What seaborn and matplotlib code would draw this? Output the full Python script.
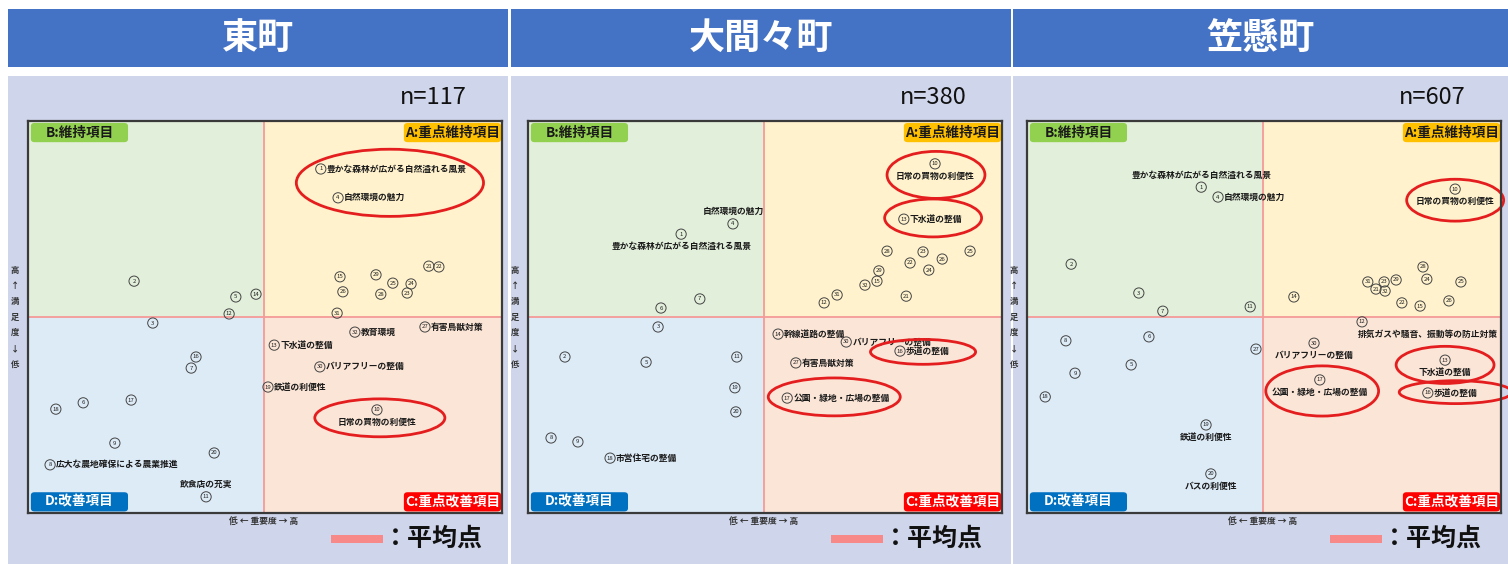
import numpy as np
import pandas as pd
import matplotlib
matplotlib.use("Agg")
import matplotlib.pyplot as plt
import seaborn as sns
from matplotlib.patches import Rectangle, Ellipse, FancyBboxPatch

sns.set_theme(style="white")
plt.rcParams["font.family"] = ["Noto Sans CJK JP", "DejaVu Sans"]

# ---------------- data ----------------
towns = ["東町", "大間々町", "笠懸町"]
sample_sizes = [117, 380, 607]
item_ids = list(range(1, 33))

higashi_importance = [61.0, 22.1, 26.0, 64.6, 43.3, 11.5, 34.0, 4.6, 18.1, 72.7, 37.1, 41.9,
                      51.3, 47.5, 65.0, 35.0, 21.5, 5.8, 50.0, 38.8, 83.5, 85.6, 79.0, 79.8,
                      76.0, 65.6, 82.7, 73.5, 72.5, 60.8, 64.4, 68.1]
higashi_satisfaction = [87.6, 59.2, 48.6, 80.3, 55.2, 28.4, 37.2, 12.7, 18.2, 26.6, 4.6, 50.9,
                        43.0, 55.9, 60.3, 40.0, 29.1, 26.8, 32.4, 15.7, 63.0, 62.8, 56.2, 58.5,
                        58.7, 56.5, 47.6, 55.9, 60.8, 37.5, 51.1, 46.3]

omama_importance = [31.9, 7.7, 27.1, 42.7, 24.6, 27.7, 35.8, 4.8, 10.4, 84.8, 43.5, 61.7,
                    78.3, 52.1, 72.7, 77.5, 54.0, 17.1, 43.1, 43.3, 78.8, 79.6, 82.3, 83.5,
                    92.1, 86.3, 55.8, 74.8, 73.1, 66.3, 64.4, 70.2]
omama_satisfaction = [71.1, 40.0, 47.6, 73.7, 38.7, 52.4, 54.7, 19.5, 18.5, 88.9, 40.0, 53.7,
                      74.9, 45.8, 59.2, 41.5, 29.6, 14.4, 32.2, 26.1, 55.4, 63.8, 66.6, 62.0,
                      66.8, 64.8, 38.5, 66.8, 61.8, 43.8, 55.7, 58.2]

kasakake_importance = [36.3, 9.2, 23.3, 39.8, 21.7, 25.4, 28.3, 8.1, 10.0, 89.2, 46.5, 69.8,
                       87.1, 55.6, 81.9, 83.5, 61.0, 3.8, 37.3, 38.3, 72.7, 78.1, 74.4, 83.3,
                       90.4, 87.9, 47.7, 82.5, 76.9, 59.8, 71.0, 74.6]
kasakake_satisfaction = [83.0, 63.5, 56.2, 80.5, 38.0, 45.1, 51.6, 44.1, 35.9, 82.5, 52.7, 48.9,
                         39.2, 55.2, 52.9, 30.9, 34.2, 29.9, 22.8, 10.4, 57.2, 53.7, 59.0, 59.7,
                         59.0, 54.2, 42.0, 62.8, 59.5, 43.5, 59.0, 56.7]

avg_importance = 49.2
avg_satisfaction = 50.1

higashi_labels = {1: "豊かな森林が広がる自然溢れる風景", 4: "自然環境の魅力",
                  8: "広大な農地確保による農業推進", 10: "日常の買物の利便性",
                  11: "飲食店の充実", 13: "下水道の整備", 19: "鉄道の利便性",
                  27: "有害鳥獣対策", 30: "バリアフリーの整備", 32: "教育環境"}
omama_labels = {1: "豊かな森林が広がる自然溢れる風景", 4: "自然環境の魅力",
                10: "日常の買物の利便性", 13: "下水道の整備", 14: "幹線道路の整備",
                16: "歩道の整備", 17: "公園・緑地・広場の整備", 18: "市営住宅の整備",
                27: "有害鳥獣対策", 30: "バリアフリーの整備"}
kasakake_labels = {1: "豊かな森林が広がる自然溢れる風景", 4: "自然環境の魅力",
                   10: "日常の買物の利便性", 12: "排気ガスや騒音、振動等の防止対策",
                   13: "下水道の整備", 16: "歩道の整備", 17: "公園・緑地・広場の整備",
                   19: "鉄道の利便性", 20: "バスの利便性", 30: "バリアフリーの整備"}

# label placement (style): r = right of marker, b = below, a = above, bl = below, left aligned
higashi_place = {1: "r", 4: "r", 8: "r", 10: "b", 11: "a", 13: "r", 19: "r", 27: "r", 30: "r", 32: "r"}
omama_place = {1: "b", 4: "a", 10: "b", 13: "r", 14: "r", 16: "r", 17: "r", 18: "r", 27: "r", 30: "r"}
kasakake_place = {1: "a", 4: "r", 10: "b", 12: "bl", 13: "b", 16: "r", 17: "b", 19: "b", 20: "b", 30: "b"}

# highlighted groups (center x, center y, width, height)
higashi_rings = [(75.4, 84.1, 39.0, 17.0), (73.3, 24.6, 27.1, 9.6)]
omama_rings = [(85.0, 86.1, 20.4, 11.9), (84.4, 75.2, 20.2, 9.6),
               (82.3, 41.3, 21.9, 6.3), (63.8, 29.9, 27.5, 9.6)]
kasakake_rings = [(89.2, 79.7, 20.2, 10.6), (87.1, 38.0, 20.4, 9.4),
                  (61.5, 31.4, 23.5, 12.7), (89.3, 31.1, 23.5, 5.8)]

panels = [
    (higashi_importance, higashi_satisfaction, higashi_labels, higashi_place, higashi_rings),
    (omama_importance, omama_satisfaction, omama_labels, omama_place, omama_rings),
    (kasakake_importance, kasakake_satisfaction, kasakake_labels, kasakake_place, kasakake_rings),
]

# ---------------- layout ----------------
W, H = 1508, 564
fig = plt.figure(figsize=(W / 100, H / 100), dpi=100)
fig.patch.set_facecolor("white")

bg = fig.add_axes([0, 0, 1, 1])
bg.set_xlim(0, W)
bg.set_ylim(H, 0)
bg.axis("off")
bg.set_zorder(-5)

header_x = [(8, 508), (511, 1011), (1013, 1508)]
plot_left = [28, 528, 1027]
PW, PT, PB = 474, 121, 513
px_per_unit_x = 4.8
px_per_unit_y = 3.95
ref_bottom = 515

HEADER_BLUE = "#4472C4"
PANEL_BG = "#CFD5EA"
MEAN_COLOR = "#F59A98"

offsets = {"r": ((4.3, 0), "left"), "b": ((0, -8.8), "center"),
           "a": ((0, 8.8), "center"), "bl": ((-3.0, -8.8), "left")}

for i, town in enumerate(towns):
    x0, x1 = header_x[i]
    bg.add_patch(Rectangle((x0, 9), x1 - x0, 58, color=HEADER_BLUE, lw=0))
    bg.add_patch(Rectangle((x0, 76), x1 - x0, H - 76, color=PANEL_BG, lw=0))
    bg.text((x0 + x1) / 2, 38, town, color="white", fontsize=26, fontweight="bold",
            ha="center", va="center")
    L = plot_left[i]
    bg.text(L + 439, 98, f"n={sample_sizes[i]}", fontsize=17, ha="right", va="center",
            color="#111111")
    # axis captions
    bg.text(L + 236, 522, "低 ← 重要度 → 高", fontsize=6.3, fontweight="bold",
            ha="center", va="center", color="#333333")
    bg.text(L - 13, 317, "高\n↑\n満\n足\n度\n↓\n低", fontsize=6, fontweight="bold",
            ha="center", va="center", color="#333333", linespacing=1.95)
    # mean legend
    bg.add_patch(Rectangle((L + 303, 535), 52, 8, color="#F78A88", lw=0))
    bg.text(L + 355, 539, "：平均点", fontsize=18, fontweight="bold", ha="left",
            va="center", color="#111111")

    # plotting axes
    imp, sat, labels, place, rings = panels[i]
    ax = fig.add_axes([L / W, 1 - PB / H, PW / W, (PB - PT) / H])
    xmin, xmax = 0, PW / px_per_unit_x
    ymin, ymax = (ref_bottom - PB) / px_per_unit_y, (ref_bottom - PT) / px_per_unit_y
    ax.set_xlim(xmin, xmax)
    ax.set_ylim(ymin, ymax)

    ax.add_patch(Rectangle((xmin, avg_satisfaction), avg_importance - xmin, ymax - avg_satisfaction,
                           color="#E2EFDA", lw=0, zorder=0))
    ax.add_patch(Rectangle((avg_importance, avg_satisfaction), xmax - avg_importance,
                           ymax - avg_satisfaction, color="#FFF2CC", lw=0, zorder=0))
    ax.add_patch(Rectangle((xmin, ymin), avg_importance - xmin, avg_satisfaction - ymin,
                           color="#DDEBF7", lw=0, zorder=0))
    ax.add_patch(Rectangle((avg_importance, ymin), xmax - avg_importance, avg_satisfaction - ymin,
                           color="#FBE5D6", lw=0, zorder=0))
    ax.axvline(avg_importance, color=MEAN_COLOR, lw=1.3, zorder=1)
    ax.axhline(avg_satisfaction, color=MEAN_COLOR, lw=1.3, zorder=1)

    df = pd.DataFrame({"item": item_ids, "importance": imp, "satisfaction": sat})
    sns.scatterplot(data=df, x="importance", y="satisfaction", ax=ax, s=54,
                    color="none", edgecolor="#444444", linewidth=0.7, zorder=3, legend=False)
    for _, r in df.iterrows():
        ax.text(r["importance"], r["satisfaction"], str(int(r["item"])), fontsize=4.3,
                ha="center", va="center", color="#222222", zorder=4)
        it = int(r["item"])
        if it in labels:
            (dx, dy), ha = offsets[place[it]]
            ax.annotate(labels[it], (r["importance"], r["satisfaction"]), xytext=(dx, dy),
                        textcoords="offset points", fontsize=6.3, fontweight="bold",
                        ha=ha, va="center", color="#1A1A1A", zorder=4,
                        annotation_clip=False)

    for (cx, cy, w, h) in rings:
        ax.add_patch(Ellipse((cx, cy), w, h, fill=False, ec="#E41E1E", lw=2.0,
                             zorder=5, clip_on=False))

    # quadrant tags
    tags = [("B:維持項目", 0.006, 0.946, "#92D050", "#1A1A1A"),
            ("A:重点維持項目", 0.793, 0.946, "#FFC000", "#1A1A1A"),
            ("D:改善項目", 0.006, 0.004, "#0070C0", "white"),
            ("C:重点改善項目", 0.793, 0.004, "#FF0000", "white")]
    for text, tx, ty, fc, tc in tags:
        ax.add_patch(FancyBboxPatch((tx, ty), 0.205, 0.049,
                                    boxstyle="round,pad=0,rounding_size=0.008",
                                    transform=ax.transAxes, fc=fc, ec="none", zorder=6))
        ax.text(tx + 0.1025, ty + 0.0245, text, transform=ax.transAxes, fontsize=9.8,
                fontweight="bold", ha="center", va="center", color=tc, zorder=7)

    ax.set_xticks([])
    ax.set_yticks([])
    ax.set_xlabel("")
    ax.set_ylabel("")
    for sp in ax.spines.values():
        sp.set_visible(True)
        sp.set_color("#3A3A3A")
        sp.set_linewidth(1.6)
        sp.set_zorder(8)

fig.savefig("out.png", dpi=100)
